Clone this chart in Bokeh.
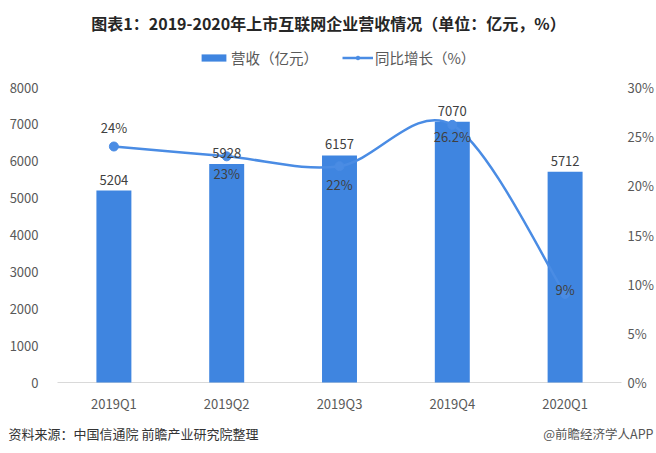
from bokeh.plotting import figure
from bokeh.models import Range1d, Label, Legend, LegendItem, ColumnDataSource
from bokeh.core.properties import value
from bokeh.embed import file_html
from bokeh.resources import INLINE

categories = ["2019Q1", "2019Q2", "2019Q3", "2019Q4", "2020Q1"]
revenue = [5204, 5928, 6157, 7070, 5712]
growth = [0.24, 0.23, 0.22, 0.262, 0.09]
growth_labels = ["24%", "23%", "22%", "26.2%", "9%"]
revenue_ticks = [0, 1000, 2000, 3000, 4000, 5000, 6000, 7000, 8000]
growth_ticks = [0, 0.05, 0.10, 0.15, 0.20, 0.25, 0.30]
growth_tick_labels = ["0%", "5%", "10%", "15%", "20%", "25%", "30%"]

title_text = "图表1：2019-2020年上市互联网企业营收情况（单位：亿元，%）"
bar_name = "营收（亿元）"
line_name = "同比增长（%）"
source_text = "资料来源：中国信通院 前瞻产业研究院整理"
brand_text = "@前瞻经济学人APP"

growth_label_offsets = [-19, 17, 18, 12, -5]

FONT = "Noto Sans CJK SC"
BAR = "#3F85E0"
LINE = "#4A8CE4"
TXT = "#404040"
TICK = "#595959"

# ---- geometry: the frame fills the whole 656x453 canvas ----
W, H = 656, 453
PL, PR = 57, 621           # pixel columns of the plotting area edges
AX_TOP, AX_BOT = 87, 382   # pixel rows of the top tick / zero level
NC = len(categories)
REV_MAX, PCT_MAX = revenue_ticks[-1], growth_ticks[-1]


def X(px):
    return -0.5 + (px - PL) / (PR - PL) * NC


def Y(py):
    return REV_MAX - (py - AX_TOP) * REV_MAX / (AX_BOT - AX_TOP)


def YP(py):
    return PCT_MAX - (py - AX_TOP) * PCT_MAX / (AX_BOT - AX_TOP)


xs = list(range(NC))

p = figure(width=W, height=H, x_range=Range1d(X(0), X(W)), y_range=Range1d(Y(H), Y(0)),
           title=None, output_backend="svg", toolbar_location=None,
           x_axis_location=None, y_axis_location=None,
           min_border_left=0, min_border_right=0, min_border_top=0, min_border_bottom=0)
p.outline_line_color = None
p.grid.visible = False
p.extra_y_ranges = {"pct": Range1d(YP(H), YP(0))}

# value-axis tick labels (left: revenue, right: growth)
p.text(x=[X(38)] * len(revenue_ticks), y=revenue_ticks, text=[str(t) for t in revenue_ticks],
       text_align="right", text_baseline="middle", text_font=value(FONT),
       text_font_size="13px", text_color=TICK)
p.text(x=[X(627)] * len(growth_ticks), y=growth_ticks, text=growth_tick_labels,
       y_range_name="pct", text_align="left", text_baseline="middle", text_font=value(FONT),
       text_font_size="13px", text_color=TICK)

# category axis line and labels
p.segment(x0=[-0.5], y0=[0], x1=[NC - 0.5], y1=[0], line_color="#D9D9D9", line_width=1)
p.text(x=xs, y=[0] * NC, text=categories, text_align="center", text_baseline="middle",
       y_offset=21, text_font=value(FONT), text_font_size="13px", text_color=TICK)

bars = p.vbar(x=xs, top=revenue, width=0.31, fill_color=BAR, line_color=None)

# smoothed line: Catmull-Rom spline through the data points, drawn as cubic beziers
bz = dict(x0=[], y0=[], x1=[], y1=[], cx0=[], cy0=[], cx1=[], cy1=[])
for i in range(NC - 1):
    xa_, ya_ = xs[max(i - 1, 0)], growth[max(i - 1, 0)]
    xb, yb = xs[i], growth[i]
    xc, yc = xs[i + 1], growth[i + 1]
    xd, yd = xs[min(i + 2, NC - 1)], growth[min(i + 2, NC - 1)]
    bz["x0"].append(xb); bz["y0"].append(yb); bz["x1"].append(xc); bz["y1"].append(yc)
    bz["cx0"].append(xb + (xc - xa_) / 6); bz["cy0"].append(yb + (yc - ya_) / 6)
    bz["cx1"].append(xc - (xd - xb) / 6); bz["cy1"].append(yc - (yd - yb) / 6)
p.bezier(x0="x0", y0="y0", x1="x1", y1="y1", cx0="cx0", cy0="cy0", cx1="cx1", cy1="cy1",
         source=ColumnDataSource(bz), y_range_name="pct", line_color=LINE, line_width=2.5)
pts = p.scatter(x=xs, y=growth, y_range_name="pct", size=9,
                fill_color=LINE, line_color=LINE)
proxy = p.line(x=xs, y=growth, y_range_name="pct", line_color=LINE, line_width=2.5,
               visible=False)

# data labels
p.text(x=xs, y=revenue, text=[str(v) for v in revenue], text_align="center",
       text_baseline="bottom", y_offset=-6, text_font=value(FONT), text_font_size="13px",
       text_color=TXT)
src = ColumnDataSource(dict(x=xs, y=growth, t=growth_labels, off=growth_label_offsets))
p.text(x="x", y="y", text="t", y_offset="off", source=src, y_range_name="pct",
       text_align="center", text_baseline="middle", text_font=value(FONT),
       text_font_size="13px", text_color=TXT)

# legend (location = bottom-left of the box, in px from the canvas bottom-left)
legend = Legend(items=[LegendItem(label=bar_name, renderers=[bars]),
                       LegendItem(label=line_name, renderers=[proxy, pts])],
                orientation="horizontal", location=(198, H - 68),
                label_text_font=FONT, label_text_font_size="14.5px", label_text_color=TICK,
                glyph_width=31, glyph_height=9, spacing=24, padding=2, margin=0,
                border_line_color=None, background_fill_alpha=0, label_standoff=2)
p.add_layout(legend)

p.add_layout(Label(x=X(328), y=Y(22), text=title_text,
                   text_align="center", text_baseline="middle", text_font=FONT,
                   text_font_size="16px", text_font_style="bold", text_color="#262626"))
p.add_layout(Label(x=X(8), y=Y(433), text=source_text,
                   text_align="left", text_baseline="middle", text_font=FONT,
                   text_font_size="13px", text_color="#333333"))
p.add_layout(Label(x=X(653), y=Y(433), text=brand_text,
                   text_align="right", text_baseline="middle", text_font=FONT,
                   text_font_size="12.5px", text_color="#555555"))

open("out.html", "w").write(file_html(p, INLINE))
